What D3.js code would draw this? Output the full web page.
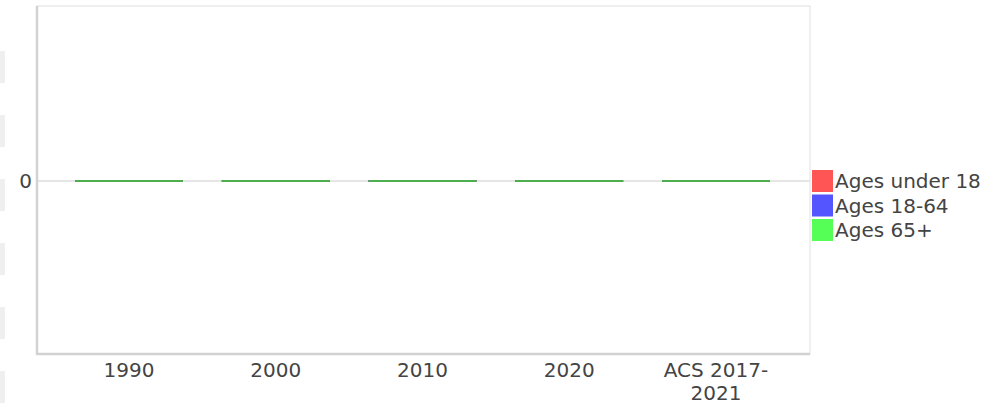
<!DOCTYPE html>
<html><head><meta charset="utf-8">
<script src="https://cdn.jsdelivr.net/npm/d3@7"></script>
<style>body{margin:0;background:#fff;overflow:hidden}svg{display:block;font-family:"DejaVu Sans",sans-serif}</style>
</head><body><svg id="c" width="1000" height="404"></svg>
<script>
const categories = ["1990", "2000", "2010", "2020", "ACS 2017-2021"];
const seriesNames = ["Ages under 18", "Ages 18-64", "Ages 65+"];
const under18 = [0, 0, 0, 0, 0];
const age18to64 = [0, 0, 0, 0, 0];
const age65plus = [0, 0, 0, 0, 0];
const yTicks = [0];
const legendColors = ["#ff5555", "#5555ff", "#55ff55"];
const barEdgeColors = ["#d94c4c", "#4c4cd9", "#4cae4c"];
const titleText = "Population by Age Group";

const svg = d3.select("#c");
const L = 37, R = 810, T = 6, B = 354;
const FS = 20;

// cut-off elements at the left edge
svg.selectAll("rect.side").data(d3.range(6)).join("rect")
  .attr("x", 0).attr("y", d => 51 + d * 64).attr("width", 5).attr("height", 32)
  .attr("fill", "#efefef");

// title (mostly above the viewport, as in the reference)
svg.append("text").attr("x", 493).attr("y", -4.5).attr("text-anchor", "middle")
  .attr("font-size", FS).attr("fill", "#aaa").text(titleText);

const x = d3.scaleBand().domain(categories).range([56, 789]).paddingInner(0.265).paddingOuter(0.13);
const y = d3.scaleLinear().domain([-1, 1]).range([B, T + 2]);

// frame
svg.append("rect").attr("x", L).attr("y", T).attr("width", R - L).attr("height", B - T)
  .attr("fill", "#fff").attr("stroke", "#e0e0e0").attr("stroke-width", 1);

// zero gridline
svg.append("g").selectAll("line").data(yTicks).join("line")
  .attr("x1", L).attr("x2", R).attr("y1", d => y(d)).attr("y2", d => y(d))
  .attr("stroke", "#e6e6e6").attr("stroke-width", 2);

// stacked bars
const rows = categories.map((c, i) => ({cat: c, s0: under18[i], s1: age18to64[i], s2: age65plus[i]}));
const stack = d3.stack().keys(["s0", "s1", "s2"])(rows);
stack.forEach((layer, si) => {
  const g = svg.append("g");
  g.selectAll("rect").data(layer).join("rect")
    .attr("x", d => x(d.data.cat)).attr("width", x.bandwidth())
    .attr("y", d => y(Math.max(d[0], d[1]))).attr("height", d => Math.abs(y(d[0]) - y(d[1])))
    .attr("fill", legendColors[si]);
  // top edge of each segment (visible even when the value is zero)
  g.selectAll("line").data(layer).join("line")
    .attr("x1", d => x(d.data.cat)).attr("x2", d => x(d.data.cat) + x.bandwidth())
    .attr("y1", d => y(d[1])).attr("y2", d => y(d[1]))
    .attr("stroke", barEdgeColors[si]).attr("stroke-width", 2);
});

// axes lines (left and bottom)
svg.append("line").attr("x1", L).attr("x2", L).attr("y1", T).attr("y2", B + 1)
  .attr("stroke", "#d2d2d2").attr("stroke-width", 2.5);
svg.append("line").attr("x1", L - 1).attr("x2", R).attr("y1", B).attr("y2", B)
  .attr("stroke", "#d2d2d2").attr("stroke-width", 2.5);

// y axis labels
const yAxis = d3.axisLeft(y).tickValues(yTicks).tickSize(0).tickPadding(5).tickFormat(d3.format("d"));
const gy = svg.append("g").attr("transform", `translate(${L},0)`).call(yAxis);
gy.select(".domain").remove();
gy.selectAll("text").attr("font-size", FS).attr("fill", "#444").attr("font-family", "DejaVu Sans");

// x axis labels
const xAxis = d3.axisBottom(x).tickSize(0).tickPadding(0);
const gx = svg.append("g").attr("transform", `translate(0,${B})`).call(xAxis);
gx.select(".domain").remove();
gx.selectAll("text").attr("font-size", FS).attr("fill", "#444").attr("font-family", "DejaVu Sans")
  .attr("dy", null)
  .each(function(d) {
    const t = d3.select(this);
    const parts = d === "ACS 2017-2021" ? ["ACS 2017-", "2021"] : [d];
    t.text(null);
    parts.forEach((p, i) => t.append("tspan").attr("x", 0).attr("y", 23 + i * 23).text(p));
  });

// legend
const lg = svg.append("g").attr("transform", "translate(812,170)");
seriesNames.forEach((n, i) => {
  lg.append("rect").attr("x", 0).attr("y", i * 24.5).attr("width", 21).attr("height", 22).attr("fill", legendColors[i]);
  lg.append("text").attr("x", 23).attr("y", i * 24.5 + 18).attr("font-size", FS).attr("fill", "#444").text(n);
});
</script></body></html>
